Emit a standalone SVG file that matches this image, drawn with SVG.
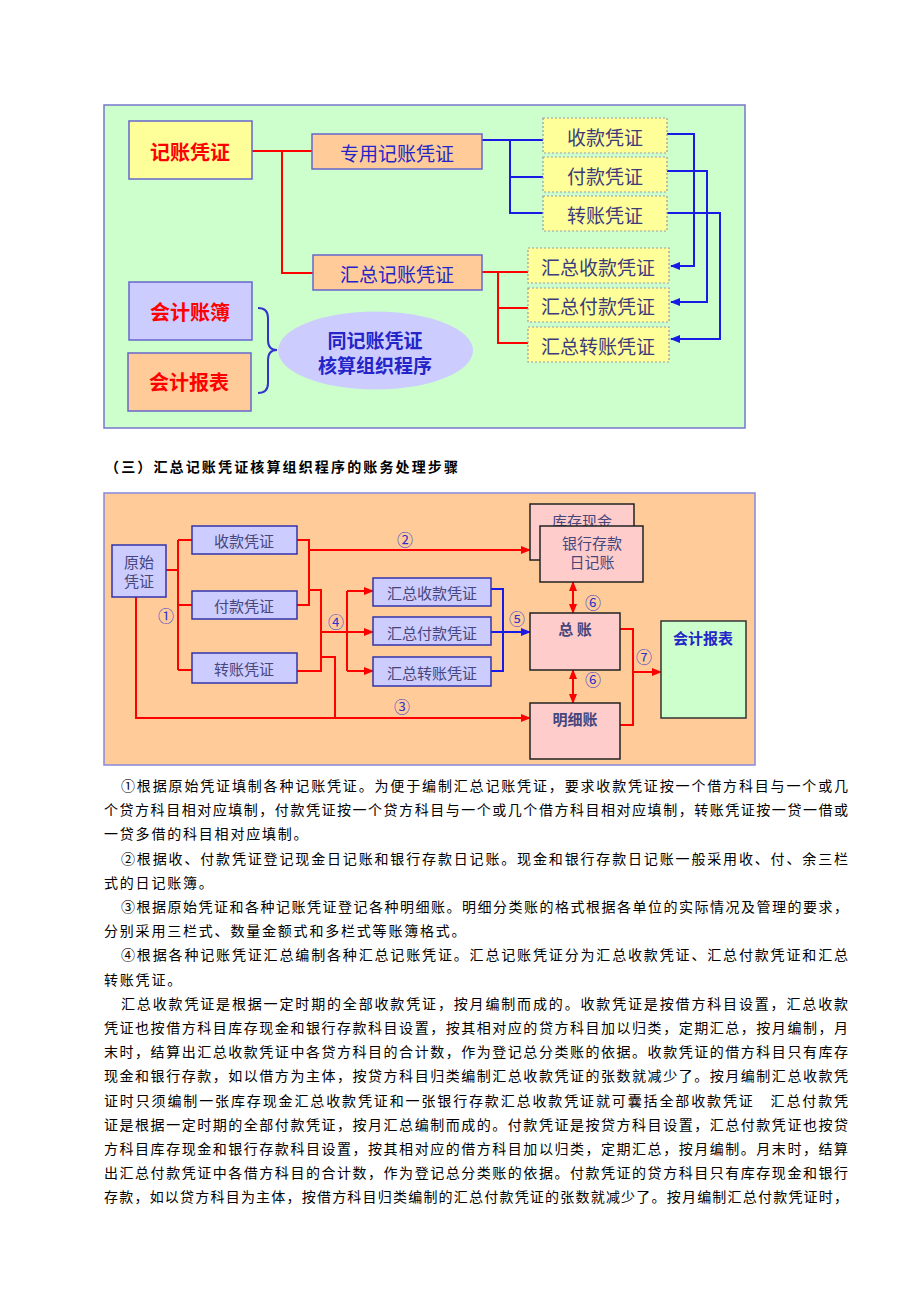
<svg xmlns="http://www.w3.org/2000/svg" width="920" height="1302" viewBox="0 0 920 1302">
<style>
.t{font-family:"Noto Sans CJK SC","Noto Sans",sans-serif;text-anchor:middle;dominant-baseline:central}
.red{fill:#FF0000;font-size:20px;font-weight:bold}
.blu{fill:#2424C8;font-size:19px}
.gry{fill:#3C3C7A;font-size:19px}
.ell{fill:#2424C8;font-size:19px;font-weight:bold}
.s2{fill:#46467C;font-size:15px}
.num{fill:#3333CC;font-size:16px}
.p{font-family:"Noto Sans CJK SC","Noto Sans",sans-serif;font-size:14px;fill:#000}
.h{font-family:"Noto Sans CJK SC","Noto Sans",sans-serif;font-size:14px;font-weight:bold;fill:#000}
.rl{stroke:#FF0000;stroke-width:2;fill:none}
.bl{stroke:#1A1AE6;stroke-width:2;fill:none}
.b1{stroke:#6666CC;stroke-width:1.5}
.dash{fill:#FFFF99;stroke:#9999AA;stroke-width:1.2;stroke-dasharray:2 2}
.b2{fill:#CCCCFF;stroke:#3333AA;stroke-width:1.5}
.pk{fill:#FFCCCC;stroke:#222;stroke-width:1.5}
</style>
<defs>
<marker id="ar" markerUnits="userSpaceOnUse" markerWidth="10" markerHeight="8" refX="9" refY="4" orient="auto-start-reverse"><path d="M0,0 L10,4 L0,8 z" fill="#FF0000"/></marker>
<marker id="ab" markerUnits="userSpaceOnUse" markerWidth="10" markerHeight="8" refX="9" refY="4" orient="auto-start-reverse"><path d="M0,0 L10,4 L0,8 z" fill="#1A1AE6"/></marker>
</defs>
<rect width="920" height="1302" fill="#FFFFFF"/>

<!-- Top diagram -->
<rect x="104" y="105" width="641" height="323" fill="#CCFFCC" stroke="#7777CC" stroke-width="1.5"/>
<g id="connectors-top">
<path class="rl" d="M252,151 H312 M282,151 V273 H313"/>
<path class="bl" d="M482,140 H543 M510,140 V213 H543 M510,177 H543"/>
<path class="bl" d="M667,134 H694 V266 H671" marker-end="url(#ab)"/>
<path class="bl" d="M667,171 H707 V302 H671" marker-end="url(#ab)"/>
<path class="bl" d="M667,213 H720 V339 H671" marker-end="url(#ab)"/>
<path class="rl" d="M482,272 H498 V343 H528 M498,272 H528 M498,308 H528"/>
<path d="M258,308 Q268,308 268,318 L268,340 Q268,350 277,350 Q268,350 268,360 L268,383 Q268,393 258,393" fill="none" stroke="#3333CC" stroke-width="2"/>
</g>
<g id="jizhang"><rect x="129" y="121" width="123" height="58" fill="#FFFF99" class="b1"/><text class="t red" x="190" y="151">记账凭证</text></g>
<g id="zhuanyong"><rect x="312" y="134" width="170" height="35" fill="#FFCC99" class="b1"/><text class="t blu" x="397" y="152">专用记账凭证</text></g>
<g id="huizong"><rect x="313" y="255" width="169" height="35" fill="#FFCC99" class="b1"/><text class="t blu" x="397" y="273">汇总记账凭证</text></g>
<g id="shoukuan"><rect x="543" y="118" width="124" height="35" class="dash"/><text class="t gry" x="605" y="136">收款凭证</text></g>
<g id="fukuan"><rect x="543" y="157" width="124" height="35" class="dash"/><text class="t gry" x="605" y="175">付款凭证</text></g>
<g id="zhuanzhang"><rect x="543" y="196" width="124" height="35" class="dash"/><text class="t gry" x="605" y="214">转账凭证</text></g>
<g id="hz-shoukuan"><rect x="528" y="248" width="141" height="35" class="dash"/><text class="t gry" x="598" y="266">汇总收款凭证</text></g>
<g id="hz-fukuan"><rect x="528" y="288" width="141" height="34" class="dash"/><text class="t gry" x="598" y="305">汇总付款凭证</text></g>
<g id="hz-zhuanzhang"><rect x="528" y="327" width="141" height="35" class="dash"/><text class="t gry" x="598" y="345">汇总转账凭证</text></g>
<g id="zhangbu"><rect x="129" y="282" width="123" height="58" fill="#CCCCFF" class="b1"/><text class="t red" x="190" y="311">会计账簿</text></g>
<g id="baobiao"><rect x="128" y="353" width="123" height="58" fill="#FFCC99" class="b1"/><text class="t red" x="189" y="381">会计报表</text></g>
<g id="ellipse"><ellipse cx="375.5" cy="350.5" rx="97.5" ry="39" fill="#CCCCFF"/><text class="t ell" x="375" y="339">同记账凭证</text><text class="t ell" x="375" y="364">核算组织程序</text></g>

<text class="h" x="105" y="472" textLength="353" lengthAdjust="spacing">（三）汇总记账凭证核算组织程序的账务处理步骤</text>

<!-- Second diagram -->
<rect x="104" y="493" width="651" height="272" fill="#FFCC99" stroke="#8888DD" stroke-width="1.5"/>
<g id="connectors-bottom">
<path class="rl" d="M166,570 H178 M178,540 V670 M178,540 H192 M178,605 H192 M178,670 H192"/>
<path class="rl" d="M297,540 H309 V605 H297"/>
<path class="rl" d="M309,550 H530" marker-end="url(#ar)"/>
<path class="rl" d="M309,590 H321 V671 H297 M321,657 H335 V718"/>
<path class="rl" d="M321,632 H373" marker-end="url(#ar)"/>
<path class="rl" d="M347,591 V671"/>
<path class="rl" d="M347,591 H373" marker-end="url(#ar)"/>
<path class="rl" d="M347,671 H373" marker-end="url(#ar)"/>
<path class="rl" d="M136,597 V718 H530" marker-end="url(#ar)"/>
<path class="bl" d="M491,589 H503 V671 H491"/>
<path class="bl" d="M491,632 H530" marker-end="url(#ab)"/>
<path class="rl" d="M573,582 V613" marker-start="url(#ar)" marker-end="url(#ar)"/>
<path class="rl" d="M573,670 V703" marker-start="url(#ar)" marker-end="url(#ar)"/>
<path class="rl" d="M620,629 H633 V725 H620"/>
<path class="rl" d="M633,672 H661" marker-end="url(#ar)"/>
<text class="t num" x="405" y="539">②</text>
<text class="t num" x="166" y="615">①</text>
<text class="t num" x="336" y="621">④</text>
<text class="t num" x="517" y="618">⑤</text>
<text class="t num" x="593" y="602">⑥</text>
<text class="t num" x="593" y="679">⑥</text>
<text class="t num" x="402" y="706">③</text>
<text class="t num" x="644" y="656">⑦</text>
</g>
<g id="yuanshi"><rect x="112" y="545" width="54" height="52" class="b2"/><text class="t s2" x="139" y="561">原始</text><text class="t s2" x="139" y="580">凭证</text></g>
<g id="b-shoukuan"><rect x="192" y="526" width="105" height="28" class="b2"/><text class="t s2" x="244" y="540">收款凭证</text></g>
<g id="b-fukuan"><rect x="192" y="591" width="105" height="28" class="b2"/><text class="t s2" x="244" y="605">付款凭证</text></g>
<g id="b-zhuanzhang"><rect x="192" y="653" width="105" height="30" class="b2"/><text class="t s2" x="244" y="668">转账凭证</text></g>
<g id="b-hzsk"><rect x="373" y="578" width="118" height="28" class="b2"/><text class="t s2" x="432" y="592">汇总收款凭证</text></g>
<g id="b-hzfk"><rect x="373" y="617" width="118" height="28" class="b2"/><text class="t s2" x="432" y="632">汇总付款凭证</text></g>
<g id="b-hzzz"><rect x="373" y="657" width="118" height="29" class="b2"/><text class="t s2" x="432" y="672">汇总转账凭证</text></g>
<g id="kucun"><rect x="530" y="504" width="104" height="56" class="pk"/><text class="t s2" x="582" y="520">库存现金</text></g>
<g id="yinhang"><rect x="540" y="526" width="103" height="56" class="pk"/><text class="t s2" x="592" y="542">银行存款</text><text class="t s2" x="592" y="561">日记账</text></g>
<g id="zongzhang"><rect x="530" y="613" width="90" height="57" class="pk"/><text class="t s2" x="575" y="628" font-weight="bold">总  账</text></g>
<g id="mingxi"><rect x="530" y="703" width="90" height="56" class="pk"/><text class="t s2" x="575" y="718" font-weight="bold">明细账</text></g>
<g id="b-baobiao"><rect x="661" y="621" width="85" height="97" fill="#CCFFCC" stroke="#333" stroke-width="1.5"/><text class="t" x="703" y="637" fill="#2424C8" font-size="15" font-weight="bold">会计报表</text></g>

<!-- Paragraphs -->
<g id="text">
<text class="p" x="121" y="791" textLength="727" lengthAdjust="spacing">①根据原始凭证填制各种记账凭证。为便于编制汇总记账凭证，要求收款凭证按一个借方科目与一个或几</text>
<text class="p" x="104" y="815.2" textLength="744" lengthAdjust="spacing">个贷方科目相对应填制，付款凭证按一个贷方科目与一个或几个借方科目相对应填制，转账凭证按一贷一借或</text>
<text class="p" x="104" y="839.4" letter-spacing="1.8">一贷多借的科目相对应填制。</text>
<text class="p" x="121" y="863.6" textLength="727" lengthAdjust="spacing">②根据收、付款凭证登记现金日记账和银行存款日记账。现金和银行存款日记账一般采用收、付、余三栏</text>
<text class="p" x="104" y="887.8" letter-spacing="1.8">式的日记账簿。</text>
<text class="p" x="121" y="912" textLength="727" lengthAdjust="spacing">③根据原始凭证和各种记账凭证登记各种明细账。明细分类账的格式根据各单位的实际情况及管理的要求，</text>
<text class="p" x="104" y="936.2" letter-spacing="1.8">分别采用三栏式、数量金额式和多栏式等账簿格式。</text>
<text class="p" x="121" y="960.4" textLength="727" lengthAdjust="spacing">④根据各种记账凭证汇总编制各种汇总记账凭证。汇总记账凭证分为汇总收款凭证、汇总付款凭证和汇总</text>
<text class="p" x="104" y="984.6" letter-spacing="1.8">转账凭证。</text>
<text class="p" x="121" y="1008.8" textLength="727" lengthAdjust="spacing">汇总收款凭证是根据一定时期的全部收款凭证，按月编制而成的。收款凭证是按借方科目设置，汇总收款</text>
<text class="p" x="104" y="1033" textLength="744" lengthAdjust="spacing">凭证也按借方科目库存现金和银行存款科目设置，按其相对应的贷方科目加以归类，定期汇总，按月编制，月</text>
<text class="p" x="104" y="1057.2" textLength="744" lengthAdjust="spacing">末时，结算出汇总收款凭证中各贷方科目的合计数，作为登记总分类账的依据。收款凭证的借方科目只有库存</text>
<text class="p" x="104" y="1081.4" textLength="744" lengthAdjust="spacing">现金和银行存款，如以借方为主体，按贷方科目归类编制汇总收款凭证的张数就减少了。按月编制汇总收款凭</text>
<text class="p" x="104" y="1105.6" textLength="744" lengthAdjust="spacing">证时只须编制一张库存现金汇总收款凭证和一张银行存款汇总收款凭证就可囊括全部收款凭证　汇总付款凭</text>
<text class="p" x="104" y="1129.8" textLength="744" lengthAdjust="spacing">证是根据一定时期的全部付款凭证，按月汇总编制而成的。付款凭证是按贷方科目设置，汇总付款凭证也按贷</text>
<text class="p" x="104" y="1154" textLength="744" lengthAdjust="spacing">方科目库存现金和银行存款科目设置，按其相对应的借方科目加以归类，定期汇总，按月编制。月末时，结算</text>
<text class="p" x="104" y="1178.2" textLength="744" lengthAdjust="spacing">出汇总付款凭证中各借方科目的合计数，作为登记总分类账的依据。付款凭证的贷方科目只有库存现金和银行</text>
<text class="p" x="104" y="1202.4" textLength="744" lengthAdjust="spacing">存款，如以贷方科目为主体，按借方科目归类编制的汇总付款凭证的张数就减少了。按月编制汇总付款凭证时，</text>
</g>
</svg>
